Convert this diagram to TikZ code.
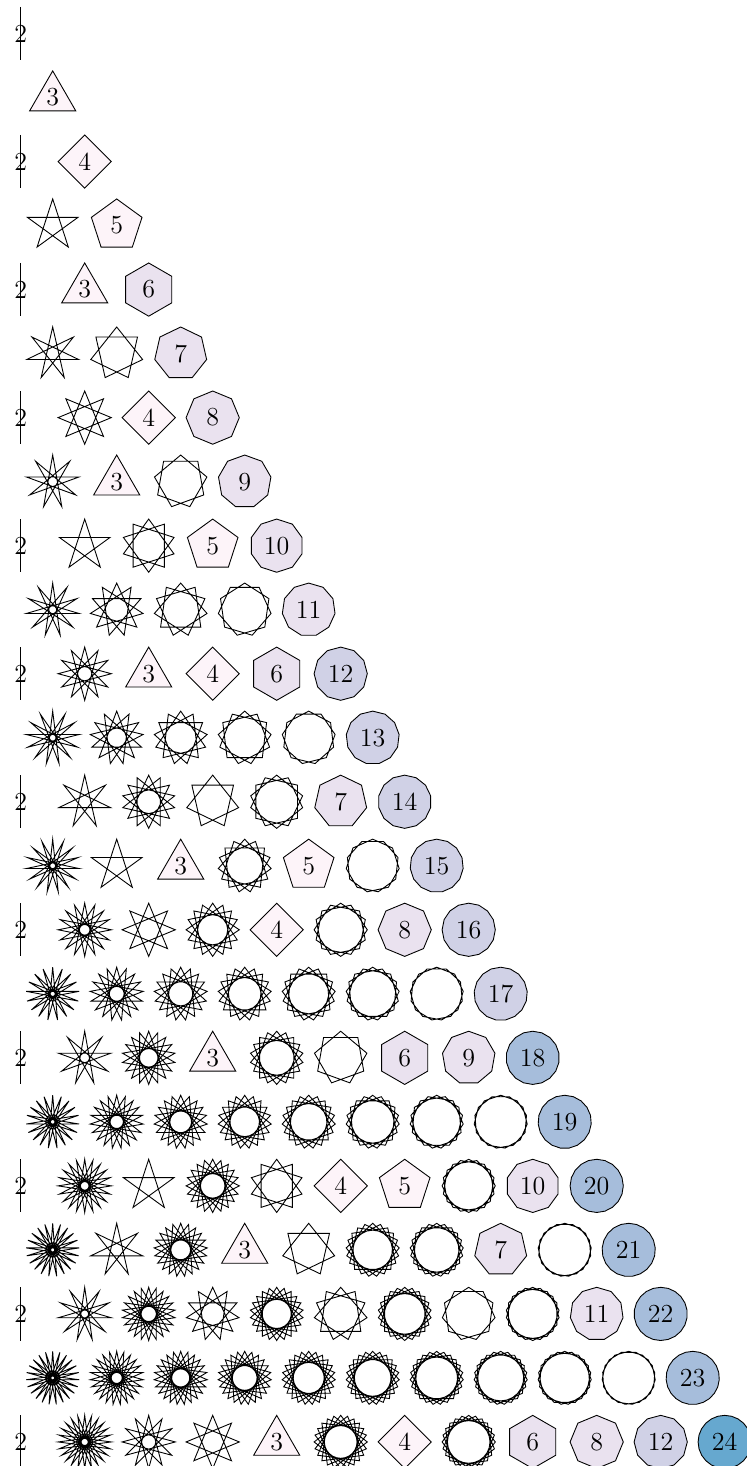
\documentclass[tikz,border=0pt]{standalone}
\usepackage{xcolor}
\usepackage{tikz}
\definecolor{ToneA}{HTML}{FDF4F9}
\definecolor{ToneB}{HTML}{EAE2EF}
\definecolor{ToneC}{HTML}{D0D1E6}
\definecolor{ToneD}{HTML}{A6BDDB}
\definecolor{ToneE}{HTML}{66A8CF}
\colorlet{tone0}{ToneA}
\colorlet{tone1}{ToneB}
\colorlet{tone2}{ToneC}
\colorlet{tone3}{ToneD}
\colorlet{tone4}{ToneE}

\begin{document}
\begin{tikzpicture}[x=0.45pt,y=0.45pt,
    countlabel/.style={inner sep=0pt,font=\fontsize{11.7}{14}\selectfont},
    ngon/.style={draw=black,line width=0.4pt},
    starpoly/.style={draw=black,line width=0.4pt,line join=miter}]
  \useasboundingbox (0,0) rectangle (747,-1466);
  \def\rad{26.6}
  \foreach \n in {2,...,24}{
    \pgfmathtruncatemacro{\kmax}{\n/2}
    \foreach \k in {1,...,\kmax}{
      \pgfmathtruncatemacro{\d}{gcd(\n,\k)}
      \pgfmathtruncatemacro{\m}{\n/\d}
      \pgfmathtruncatemacro{\j}{\k/\d}
      \pgfmathtruncatemacro{\last}{\m-1}
      \pgfmathsetmacro{\cx}{20.7+32*(\n-2*\k)}
      \pgfmathsetmacro{\cy}{-33.5-64.02*(\n-2)}
      \coordinate (c-\n-\k) at (\cx,\cy);
      \ifnum\m=2
        % digon: a bare segment
        \draw[ngon] (\cx,\cy+\rad) -- (\cx,\cy-\rad);
        \node[countlabel] (l-\n-\k) at (c-\n-\k) {2};
      \else\ifnum\j=1
        % convex polygon, shaded by its number of sides
        \pgfmathtruncatemacro{\shade}{min(\m/6,4)}
        \filldraw[ngon,fill=tone\shade] (\cx,\cy+\rad)
          \foreach \i in {1,...,\last}{
            -- ({\cx+\rad*cos(90+360*\i/\m)},{\cy+\rad*sin(90+360*\i/\m)})
          } -- cycle;
        \node[countlabel] (l-\n-\k) at (c-\n-\k) {\m};
      \else
        % star polygon {m/j}
        \draw[starpoly] (\cx,\cy+\rad)
          \foreach \i in {1,...,\last}{
            -- ({\cx+\rad*cos(90+360*mod(\j*\i,\m)/\m)},{\cy+\rad*sin(90+360*mod(\j*\i,\m)/\m)})
          } -- cycle;
      \fi\fi
    }
  }
\end{tikzpicture}
\end{document}
